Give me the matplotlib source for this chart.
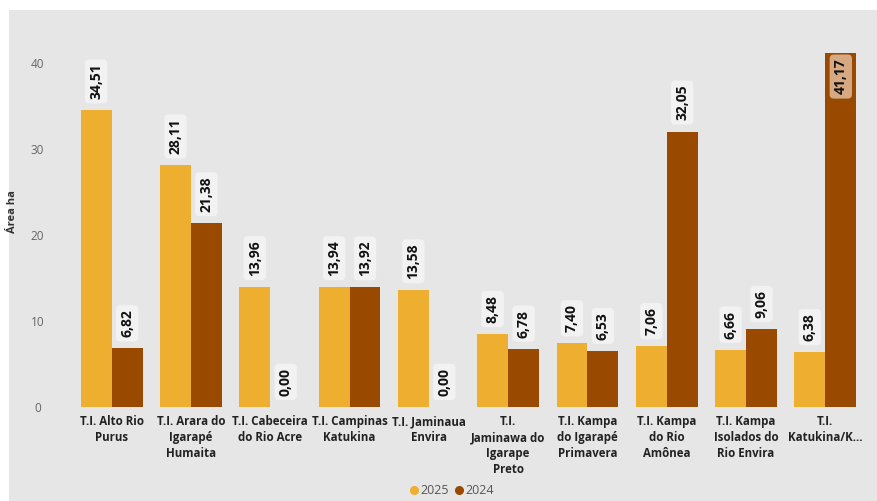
import numpy as np
import matplotlib.pyplot as plt
from matplotlib.patches import Rectangle
from matplotlib.lines import Line2D

categories = [
    "T.I. Alto Rio\nPurus",
    "T.I. Arara do\nIgarapé\nHumaita",
    "T.I. Cabeceira\ndo Rio Acre",
    "T.I. Campinas\nKatukina",
    "T.I. Jaminaua\nEnvira",
    "T.I.\nJaminawa do\nIgarape\nPreto",
    "T.I. Kampa\ndo Igarapé\nPrimavera",
    "T.I. Kampa\ndo Rio\nAmônea",
    "T.I. Kampa\nIsolados do\nRio Envira",
    "T.I.\nKatukina/K…",
]
values_2025 = [34.51, 28.11, 13.96, 13.94, 13.58, 8.48, 7.40, 7.06, 6.66, 6.38]
values_2024 = [6.82, 21.38, 0.00, 13.92, 0.00, 6.78, 6.53, 32.05, 9.06, 41.17]
y_ticks = [0, 10, 20, 30, 40]

color_2025 = "#EEAE30"
color_2024 = "#994A00"
bg = "#E6E6E6"

plt.rcParams['font.family'] = ['Open Sans', 'DejaVu Sans']

fig = plt.figure(figsize=(8.77, 5.01), dpi=100)
fig.patches.append(Rectangle((9 / 877, 0), 1, 491 / 501, transform=fig.transFigure,
                             facecolor=bg, edgecolor="none", zorder=-10))
ax = fig.add_axes([72 / 877, 1 - 407 / 501, 793 / 877, (407 - 46) / 501])
ax.set_facecolor(bg)

x = np.arange(len(categories))
w = 0.39
b1 = ax.bar(x - w / 2, values_2025, w, color=color_2025, label="2025")
b2 = ax.bar(x + w / 2, values_2024, w, color=color_2024, label="2024")

ax.set_xlim(-0.5, len(categories) - 0.5)
ax.set_ylim(0, 42)
ax.set_yticks(y_ticks)
ax.set_yticklabels([str(t) for t in y_ticks], color="#666666", fontsize=8.5)
ax.tick_params(axis="y", length=0, pad=25)
for t in ax.get_yticklabels():
    t.set_horizontalalignment("center")
ax.tick_params(axis="x", length=0, pad=6)
ax.set_xticks(x)
ax.set_xticklabels(categories, fontsize=8.3, fontweight="bold", color="#222222",
                   linespacing=1.3, va="top")
for s in ax.spines.values():
    s.set_visible(False)

ax.set_ylabel("Área ha", fontsize=8, fontweight="bold", color="#333333", labelpad=2)
ax.yaxis.set_label_coords(-0.068, 0.54)

def fmt(v):
    return f"{v:.2f}".replace(".", ",")

for bars, vals in ((b1, values_2025), (b2, values_2024)):
    for bar, v in zip(bars, vals):
        cx = bar.get_x() + bar.get_width() / 2
        if v > 38:
            ax.annotate(fmt(v), (cx, v), xytext=(0, -4), textcoords="offset points",
                        rotation=90, ha="center", va="top", fontsize=10,
                        fontweight="bold", color="#111111",
                        bbox=dict(boxstyle="round,pad=0.3", fc="#D6A982", ec="none"))
        else:
            ax.annotate(fmt(v), (cx, v), xytext=(0, 8), textcoords="offset points",
                        rotation=90, ha="center", va="bottom", fontsize=10,
                        fontweight="bold", color="#111111",
                        bbox=dict(boxstyle="round,pad=0.3", fc="#F2F2F2", ec="none"))

handles = [Line2D([], [], marker="o", linestyle="none", color=color_2025, markersize=5.5),
           Line2D([], [], marker="o", linestyle="none", color=color_2024, markersize=5.5)]
leg = fig.legend(handles, ["2025", "2024"], loc="center",
                 bbox_to_anchor=(452 / 877, 1 - 491 / 501), ncol=2, frameon=False,
                 fontsize=9, handlelength=0.6, handletextpad=0.2, columnspacing=0.5)
for t in leg.get_texts():
    t.set_color("#555555")

fig.savefig("out.png", dpi=100, facecolor="white")
